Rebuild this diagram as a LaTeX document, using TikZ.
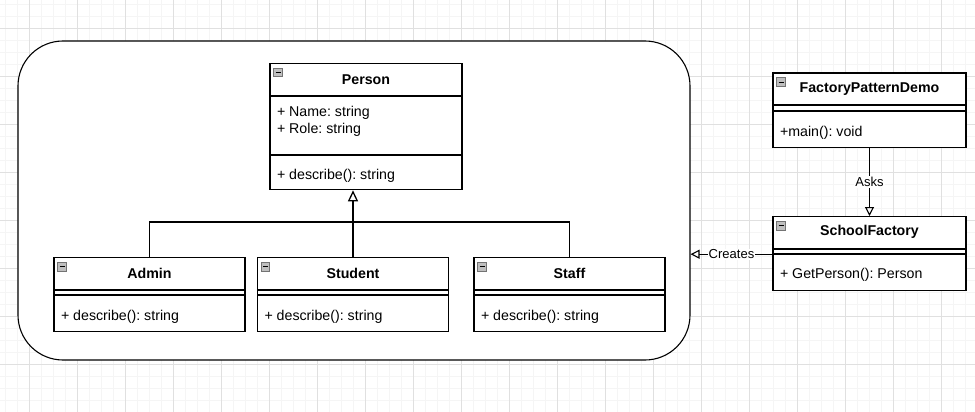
\documentclass[tikz,border=0pt]{standalone}
\usepackage{fontspec}
\setmainfont{Liberation Sans}
\usetikzlibrary{positioning,arrows.meta}
\frenchspacing
\newcommand\umlfont{\fontsize{14.2pt}{17pt}\selectfont}
\tikzstyle{classhead}=[draw,fill=white,anchor=north,minimum height=31.5pt,inner sep=0pt,font=\umlfont\bfseries]
\tikzstyle{classpart}=[draw,fill=white,anchor=north,minimum height=4.5pt,inner sep=0pt]
\tikzstyle{member}=[anchor=base west,inner sep=0pt,font=\umlfont]
\tikzstyle{collapse}=[draw=black!55,fill=black!25,anchor=north west,minimum size=8.5pt,inner sep=0pt,line width=0.8pt]
\tikzstyle{edgelabel}=[fill=white,inner sep=1pt,font=\fontsize{13pt}{15pt}\selectfont]
\tikzstyle{inherit}=[-{Triangle[open,length=11pt,width=10pt,line width=1.3pt]}]
\tikzstyle{assoc}=[-{Triangle[open,length=9pt,width=9pt]}]

\begin{document}
\begin{tikzpicture}[x=1pt,y=-1pt,line width=1.1pt]
  \useasboundingbox[fill=white] (0,0) rectangle (975,412);
  % grid
  \foreach \x in {5,17,...,977} \draw[black!4,line width=0.8pt] (\x,0) -- (\x,412);
  \foreach \y in {4,16,...,412} \draw[black!4,line width=0.8pt] (0,\y) -- (975,\y);
  \foreach \x in {29,77,...,977} \draw[black!12,line width=0.8pt] (\x,0) -- (\x,412);
  \foreach \y in {28,76,...,412} \draw[black!12,line width=0.8pt] (0,\y) -- (975,\y);

  % container
  \node[draw,fill=white,rounded corners=45pt,minimum width=672pt,minimum height=319pt,inner sep=0pt] (school) at (354,200.5) {};

  % Person
  \node[classhead,minimum width=192pt,minimum height=32pt] (person) at (366,63) {Person};
  \node[collapse] (person-icon) at ([shift={(4,5)}]person.north west) {\rule{5pt}{1.2pt}};
  \node[classpart,minimum width=192pt,minimum height=58pt] (person-attr) at (person.south) {};
  \node[member] (person-name) at ([shift={(7,20.5)}]person-attr.north west) {+ Name: string};
  \node[member] (person-role) at ([shift={(7,37.5)}]person-attr.north west) {+ Role: string};
  \node[classpart,minimum width=192pt,minimum height=34pt] (person-ops) at (person-attr.south) {};
  \node[member] (person-describe) at ([shift={(7,24.5)}]person-ops.north west) {+ describe(): string};

  % subclasses
  \foreach \name/\x/\title in {admin/149.5/Admin, student/353/Student, staff/569.5/Staff} {
    \node[classhead,minimum width=191pt] (\name) at (\x,257) {\title};
    \node[collapse] (\name-icon) at ([shift={(4,5)}]\name.north west) {\rule{5pt}{1.2pt}};
    \node[classpart,minimum width=191pt] (\name-attr) at (\name.south) {};
    \node[classpart,minimum width=191pt,minimum height=36pt] (\name-ops) at (\name-attr.south) {};
    \node[member] (\name-describe) at ([shift={(7,25.5)}]\name-ops.north west) {+ describe(): string};
  }

  % factory side
  \node[classhead,minimum width=193pt] (demo) at (869.5,72.5) {FactoryPatternDemo};
  \node[collapse] (demo-icon) at ([shift={(4,5)}]demo.north west) {\rule{5pt}{1.2pt}};
  \node[classpart,minimum width=193pt] (demo-attr) at (demo.south) {};
  \node[classpart,minimum width=193pt,minimum height=36pt] (demo-ops) at (demo-attr.south) {};
  \node[member] (demo-main) at ([shift={(7,26)}]demo-ops.north west) {+main(): void};

  \node[classhead,minimum width=193pt] (factory) at (869.5,216) {SchoolFactory};
  \node[collapse] (factory-icon) at ([shift={(4,5)}]factory.north west) {\rule{5pt}{1.2pt}};
  \node[classpart,minimum width=193pt] (factory-attr) at (factory.south) {};
  \node[classpart,minimum width=193pt,minimum height=36pt] (factory-ops) at (factory-attr.south) {};
  \node[member] (factory-get) at ([shift={(7,24.5)}]factory-ops.north west) {+ GetPerson(): Person};

  % inheritance
  \coordinate (join) at (353,222);
  \foreach \name in {admin,student,staff}
    \draw (\name.north) |- (join);
  \draw[inherit,line width=2pt] (join) -- (join |- person-ops.south);

  % associations
  \draw[assoc] (demo-ops.south) -- (factory.north)
    node[edgelabel,midway] (asks) {Asks};
  \draw[assoc] (factory-ops.north west) -- (factory-ops.north west -| school.east)
    node[edgelabel,midway] (creates) {Creates};
\end{tikzpicture}
\end{document}
